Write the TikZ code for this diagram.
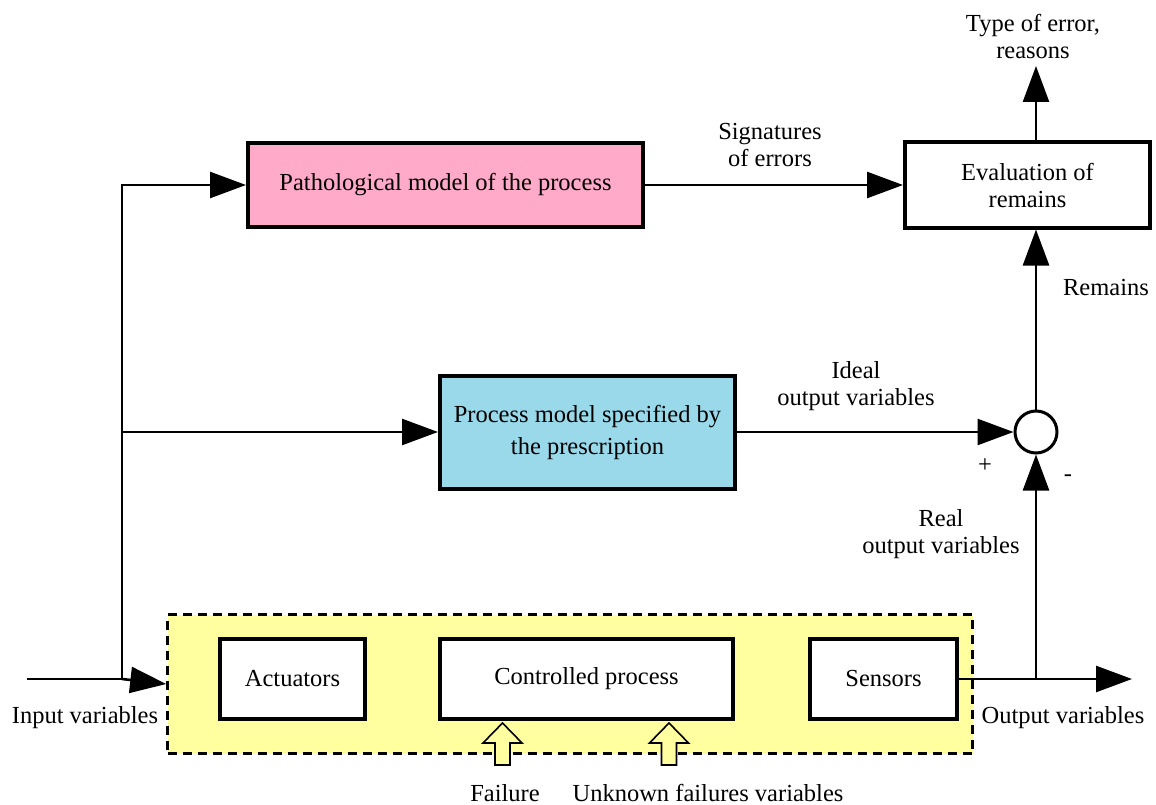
\documentclass[tikz,border=0pt]{standalone}
\usepackage{fontspec}
\setmainfont{Liberation Serif}
\usetikzlibrary{arrows.meta}
\definecolor{pinkbox}{HTML}{FFAAC8}
\definecolor{bluebox}{HTML}{99D9EA}
\definecolor{yellowbg}{HTML}{FFFF9F}
\tikzset{
  blk/.style={draw=black, line width=4pt, inner sep=0pt, align=center},
  conn/.style={line width=2.6pt, -{Triangle[length=36pt,width=26pt]}},
  plain/.style={line width=2.6pt},
  lbl/.style={align=center, inner sep=0pt},
  hollow/.style={draw=black, line width=1.6pt, fill=yellowbg, line join=miter}
}
\begin{document}
\begin{tikzpicture}[x=1pt,y=-1pt,font=\fontsize{24.5}{27}\selectfont]
\useasboundingbox (0,0) rectangle (1156,805);

% plant region
\node[draw=black, dash pattern=on 9pt off 6pt, line width=2.6pt, fill=yellowbg,
  minimum width=805pt, minimum height=139pt, inner sep=0pt] (plant) at (570,684) {};

% blocks
\node[blk, fill=pinkbox, minimum width=395pt, minimum height=83pt] (patho) at (445.5,185) {Pathological model of the process};
\node[blk, fill=white, minimum width=245pt, minimum height=85pt] (eval) at (1027.5,185) {Evaluation of\\remains};
\node[blk, fill=bluebox, minimum width=295pt, minimum height=113pt,
  font=\fontsize{24.5}{32}\selectfont] (model) at (587.5,432) {Process model specified by\\the prescription};
\node[draw=black, line width=3pt, circle, minimum size=42pt, inner sep=0pt, fill=white] (sum) at (1036,432) {};
\node[blk, fill=white, minimum width=145pt, minimum height=80pt] (act) at (292.5,679) {Actuators};
\node[blk, fill=white, minimum width=293pt, minimum height=80pt] (proc) at (586.5,679) {Controlled process};
\node[blk, fill=white, minimum width=147pt, minimum height=80pt] (sens) at (883.5,679) {Sensors};

% disturbance inputs (hollow block arrows into the process)
\foreach \name/\cx in {fail1/502.5, fail2/669} {
  \coordinate (\name) at (\cx,723);
  \draw[hollow] (\name) -- ++(19.5,20) -- ++(-12,0) -- ++(0,22) -- ++(-15,0)
    -- ++(0,-22) -- ++(-12,0) -- cycle;
}

% junction points
\coordinate (in0) at (27,679);
\coordinate (split) at (122,679);
\coordinate (outj) at (1036,679);
\coordinate (outend) at (1132,679);
\coordinate (errout) at (1036,66);

% connectors
\draw[plain] (in0) -- (split);
\draw[conn] (split) -- (plant.west);
\draw[conn] (split) |- (patho.west);
\draw[conn] (split |- model.west) -- (model.west);
\draw[conn] (patho.east) -- (eval.west);
\draw[conn] (model.east) -- (sum.west);
\draw[conn] (sum.north) -- (sum.north |- eval.south);
\draw[conn] (errout |- eval.north) -- (errout);
\draw[plain] (sens.east) -- (outj);
\draw[conn] (outj) -- (outend);
\draw[conn] (outj) -- (sum.south);

% labels
\node[lbl] (lerr) at (1033,36) {Type of error,\\reasons};
\node[lbl] (lsig) at (770,145) {Signatures\\of errors};
\node[lbl] (lrem) at (1106,288) {Remains};
\node[lbl] (lideal) at (856,386) {Ideal\\output variables};
\node[lbl] (lplus) at (985,466) {+};
\node[lbl] (lminus) at (1068,478) {-};
\node[lbl] (lreal) at (941,534) {Real\\output variables};
\node[lbl] (lin) at (85,718) {Input variables};
\node[lbl] (lout) at (1063,718) {Output variables};
\node[lbl] (lfail) at (505,793) {Failure};
\node[lbl] (lunk) at (708,793) {Unknown failures variables};
\end{tikzpicture}
\end{document}
